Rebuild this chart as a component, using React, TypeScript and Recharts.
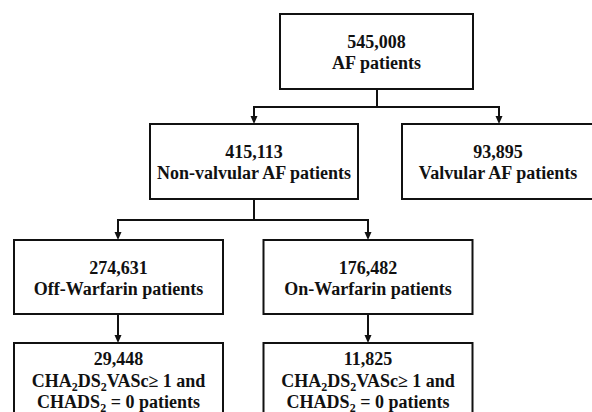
import React from 'react';
import { ScatterChart, Scatter, XAxis, YAxis, ReferenceLine } from 'recharts';

// patient counts shown in each box
const counts = ['545,008', '415,113', '93,895', '274,631', '176,482', '29,448', '11,825'];

// box captions (text between bars is the subscript "2" of CHA2DS2VASc / CHADS2)
const captions = [
  ['AF patients'],
  ['Non-valvular AF patients'],
  ['Valvular AF patients'],
  ['Off-Warfarin patients'],
  ['On-Warfarin patients'],
  ['CHA|2|DS|2|VASc≥ 1 and', 'CHADS|2| = 0 patients'],
  ['CHA|2|DS|2|VASc≥ 1 and', 'CHADS|2| = 0 patients'],
];

// layout of the boxes in chart units (center x, top y, width, height)
const boxX = [376.5, 254, 498, 118.5, 368, 118.5, 368];
const boxTop = [14, 124, 124, 240, 240, 343, 343];
const boxW = [193, 208, 192, 209, 209, 209, 209];
const boxH = [75, 75, 75, 74, 74, 75, 75];

// connectors: [x1, y1, x2, y2, arrow]
const links: [number, number, number, number, boolean][] = [
  [377, 89, 377, 107, false],
  [253, 107, 500, 107, false],
  [254, 107, 254, 124, true],
  [499, 107, 499, 124, true],
  [254, 199, 254, 220, false],
  [117, 220, 369, 220, false],
  [118, 220, 118, 240, true],
  [368, 220, 368, 240, true],
  [118, 314, 118, 343, true],
  [368, 314, 368, 343, true],
];

const nodes = counts.map((c, i) => ({
  x: boxX[i],
  y: boxTop[i],
  count: c,
  lines: captions[i],
  w: boxW[i],
  h: boxH[i],
}));

const FONT = "'Liberation Serif', 'Times New Roman', 'DejaVu Serif', serif";

function renderLine(line: string, key: number, x: number, y: number) {
  const parts = line.split('|');
  return (
    <text
      key={key}
      x={x}
      y={y}
      textAnchor="middle"
      style={{ fontFamily: FONT, fontWeight: 700, fontSize: 18 }}
      fill="#111"
    >
      {parts.map((p, j) =>
        j % 2 === 1 ? (
          <tspan key={j} style={{ fontSize: 12 }} dy={4}>
            {p}
          </tspan>
        ) : (
          <tspan key={j} dy={j === 0 ? 0 : -4}>
            {p}
          </tspan>
        )
      )}
    </text>
  );
}

const BoxShape = (props: any) => {
  const { cx, cy, payload } = props;
  if (cx == null || cy == null) return null;
  const { w, h, count, lines } = payload;
  const first = lines.length > 1 ? 22 : 34;
  const step = lines.length > 1 ? 21.5 : 21;
  return (
    <g>
      <rect x={cx - w / 2} y={cy} width={w} height={h} fill="#fff" stroke="#111" strokeWidth={2} />
      {renderLine(count, 0, cx, cy + first)}
      {lines.map((l: string, i: number) => renderLine(l, i + 1, cx, cy + first + step * (i + 1)))}
    </g>
  );
};

const arrowShape = (arrow: boolean) => (props: any) => {
  const { x1, y1, x2, y2 } = props;
  return (
    <g>
      <line x1={x1} y1={y1} x2={x2} y2={arrow ? y2 - 4 : y2} stroke="#111" strokeWidth={2} />
      {arrow && <polygon points={`${x2 - 3.5},${y2 - 8} ${x2 + 3.5},${y2 - 8} ${x2},${y2}`} fill="#111" />}
    </g>
  );
};

export default function App() {
  return (
    <div style={{ position: 'fixed', left: 0, top: 0, background: '#fff' }}>
      <ScatterChart width={592} height={412} margin={{ top: 0, right: 0, bottom: 0, left: 0 }}>
        <XAxis dataKey="x" type="number" domain={[0, 592]} hide />
        <YAxis dataKey="y" type="number" domain={[0, 412]} reversed hide />
        {links.map(([a, b, c, d, arrow], i) => (
          <ReferenceLine
            key={i}
            segment={[
              { x: a, y: b },
              { x: c, y: d },
            ]}
            ifOverflow="visible"
            shape={arrowShape(arrow)}
          />
        ))}
        <Scatter data={nodes} shape={BoxShape} isAnimationActive={false} />
      </ScatterChart>
    </div>
  );
}
